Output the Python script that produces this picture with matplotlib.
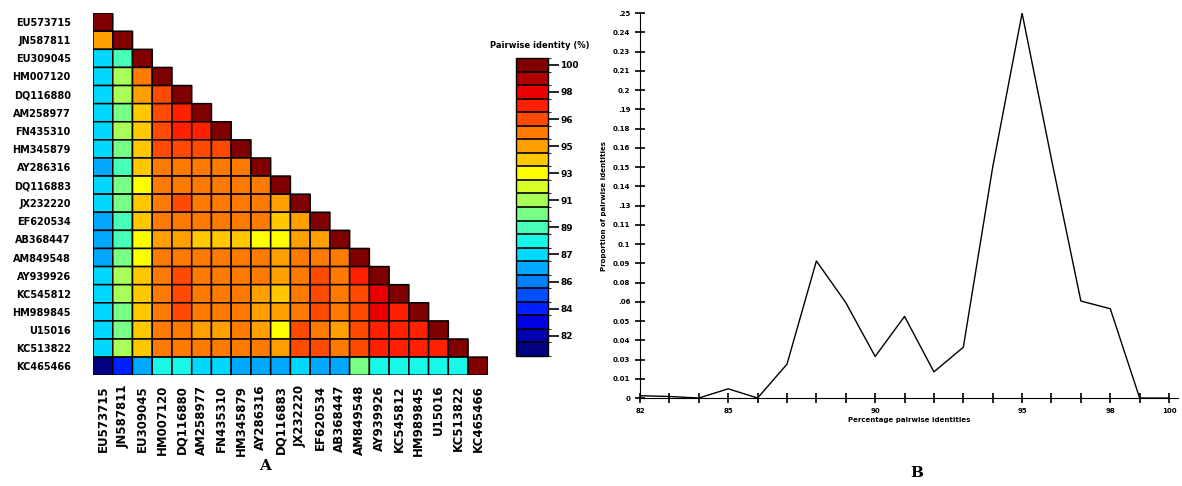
import numpy as np
import matplotlib
matplotlib.use('Agg')
import matplotlib.pyplot as plt
from matplotlib.colors import BoundaryNorm, ListedColormap
from matplotlib.cm import ScalarMappable

# Secuencias (filas y columnas de la matriz)
secuencias = ['EU573715', 'JN587811', 'EU309045', 'HM007120', 'DQ116880',
              'AM258977', 'FN435310', 'HM345879', 'AY286316', 'DQ116883',
              'JX232220', 'EF620534', 'AB368447', 'AM849548', 'AY939926',
              'KC545812', 'HM989845', 'U15016', 'KC513822', 'KC465466']

# Identidad por pares (%) - triangulo inferior, fila por fila
identidad = [
    [100],
    [94.8, 100],
    [87.0, 89.6, 100],
    [87.8, 91.0, 95.2, 100],
    [87.8, 91.0, 94.6, 96.5, 100],
    [87.8, 90.5, 93.7, 96.3, 97.5, 100],
    [87.8, 91.0, 94.0, 96.5, 97.5, 97.5, 100],
    [87.8, 90.2, 93.7, 96.5, 96.8, 96.5, 96.8, 100],
    [86.8, 89.6, 93.5, 95.5, 95.5, 95.3, 95.3, 95.2, 100],
    [87.8, 90.2, 92.8, 95.5, 95.5, 95.5, 95.3, 95.3, 95.1, 100],
    [87.2, 90.2, 94.0, 95.5, 96.0, 95.8, 95.5, 95.7, 95.3, 94.6, 100],
    [86.8, 89.6, 93.7, 95.3, 95.5, 95.3, 95.1, 95.3, 95.1, 93.8, 94.7, 100],
    [86.5, 89.6, 93.0, 94.5, 94.2, 93.8, 93.8, 93.5, 93.0, 93.0, 94.2, 94.2, 100],
    [86.2, 90.2, 92.8, 95.5, 95.5, 95.5, 95.3, 95.3, 95.1, 94.5, 95.3, 95.5, 95.1, 100],
    [87.5, 91.0, 94.0, 95.5, 96.3, 95.8, 95.5, 95.7, 95.3, 94.7, 95.5, 96.3, 95.3, 97.3, 100],
    [87.5, 90.6, 93.7, 95.5, 96.0, 95.5, 95.3, 95.3, 94.7, 93.8, 95.5, 96.0, 95.3, 96.5, 97.8, 100],
    [87.3, 90.2, 93.7, 95.5, 96.0, 95.5, 95.5, 95.3, 94.7, 94.2, 95.5, 96.0, 95.3, 96.5, 97.8, 97.5, 100],
    [87.3, 90.2, 93.7, 95.3, 95.5, 94.7, 94.5, 95.1, 94.5, 93.0, 96.0, 95.5, 94.7, 96.3, 97.2, 97.3, 97.0, 100],
    [87.8, 90.6, 93.7, 95.5, 95.8, 95.3, 95.3, 95.5, 95.1, 94.2, 96.0, 96.0, 95.5, 96.5, 97.5, 97.5, 97.2, 97.0, 100],
    [81.5, 84.0, 86.5, 88.5, 88.0, 87.5, 87.3, 86.8, 86.3, 86.3, 87.0, 86.8, 86.8, 90.0, 88.5, 88.5, 88.5, 88.2, 88.5, 100],
]

# Escala de colores (bandas de abajo hacia arriba)
niveles = [80.65 + 0.9 * i for i in range(23)]
colores_bandas = ['#000080', '#0000b0', '#0000e0', '#0020ff', '#0050ff', '#0080ff',
                  '#00a8ff', '#00d8ff', '#18f8e8', '#48ffb8', '#78ff88', '#a8ff58',
                  '#d8ff28', '#ffff00', '#ffc800', '#ffa000', '#ff7a00', '#ff4a00',
                  '#ff2000', '#e80000', '#b00000', '#800000']
ticks_cb = [100, 98.2, 96.4, 94.6, 92.8, 91, 89.2, 87.4, 85.6, 83.8, 82]
etiquetas_cb = ['100', '98', '96', '95', '93', '91', '89', '87', '86', '84', '82']

# Distribucion de identidades (panel B)
porcentaje = [82, 83, 84, 85, 86, 87, 88, 89, 90, 91, 92, 93, 94, 95, 96, 97, 98, 99, 100]
proporcion = [0.0015, 0.001, 0, 0.006, 0, 0.022, 0.089, 0.062, 0.027, 0.053,
              0.017, 0.033, 0.15, 0.25, 0.155, 0.063, 0.058, 0, 0]
ticks_y = [i * 0.0125 for i in range(21)]
etiquetas_y = ['0', '0.01', '0.03', '0.04', '0.05', '.06', '0.08', '0.09', '0.1', '0.11',
               '.13', '0.14', '0.15', '0.16', '0.18', '.19', '0.2', '0.21', '0.23', '0.24', '.25']
etiquetas_x = {82: '82', 85: '85', 90: '90', 95: '95', 98: '98', 100: '100'}

n = len(secuencias)
matriz = np.full((n, n), np.nan)
for i, fila in enumerate(identidad):
    matriz[i, :len(fila)] = fila
matriz = np.ma.masked_invalid(matriz)

fig = plt.figure(figsize=(11.82, 4.86), dpi=100)

# ---- Panel A: matriz de identidad
ax = fig.add_axes([0.0787, 0.228, 0.334, 0.745])
cmap = ListedColormap(colores_bandas)
norm = BoundaryNorm(niveles, cmap.N)
ax.pcolor(np.arange(n + 1), np.arange(n + 1), matriz, cmap=cmap, norm=norm,
          edgecolors='black', linewidth=1.1)
ax.set_xlim(0, n)
ax.set_ylim(n, 0)
for s in ax.spines.values():
    s.set_visible(False)
ax.set_xticks(np.arange(n) + 0.5)
ax.set_xticklabels(secuencias, rotation=90, fontsize=8.5, fontweight='bold')
ax.set_yticks(np.arange(n) + 0.5)
ax.set_yticklabels(secuencias, fontsize=7, fontweight='bold')
ax.tick_params(axis='y', length=0, pad=16)
ax.tick_params(axis='x', length=0, pad=7)
fig.text(0.224, 0.033, 'A', fontsize=11, fontweight='bold', family='serif', ha='center')

# Barra de colores
cax = fig.add_axes([0.4365, 0.2675, 0.027, 0.613])
sm = ScalarMappable(norm=norm, cmap=cmap)
cb = fig.colorbar(sm, cax=cax, boundaries=niveles, drawedges=True)
cb.outline.set_linewidth(1)
cb.dividers.set_linewidth(1.2)
cb.set_ticks(ticks_cb)
cb.set_ticklabels(etiquetas_cb)
cax.tick_params(length=8, width=1.2, labelsize=6.5, pad=1)
for t in cax.get_yticklabels():
    t.set_fontweight('bold')
fig.text(0.457, 0.902, 'Pairwise identity (%)', fontsize=6, fontweight='bold', ha='center')

# ---- Panel B: distribucion
ax2 = fig.add_axes([0.5415, 0.181, 0.455, 0.792])
ax2.plot(porcentaje, proporcion, color='black', lw=1)
ax2.set_xlim(82, 100.3)
ax2.set_ylim(0, 0.25)
ax2.spines['top'].set_visible(False)
ax2.spines['right'].set_visible(False)
ax2.set_xticks(porcentaje)
ax2.set_xticklabels([etiquetas_x.get(p, '') for p in porcentaje], fontsize=5, fontweight='bold')
ax2.set_yticks(ticks_y)
ax2.set_yticklabels(etiquetas_y, fontsize=5, fontweight='bold')
ax2.tick_params(direction='inout', length=7, width=1.2)
for p, t in zip(porcentaje, ax2.xaxis.get_major_ticks()):
    if p in (90, 95):
        t.tick1line.set_color('#3a6e3a')
ax2.set_xlabel('Percentage pairwise identities', fontsize=5, fontweight='bold', labelpad=2)
ax2.set_ylabel('Proportion of pairwise identities', fontsize=5, fontweight='bold', labelpad=4)
fig.text(0.776, 0.018, 'B', fontsize=11, fontweight='bold', family='serif', ha='center')

fig.savefig('out.png', dpi=100)
